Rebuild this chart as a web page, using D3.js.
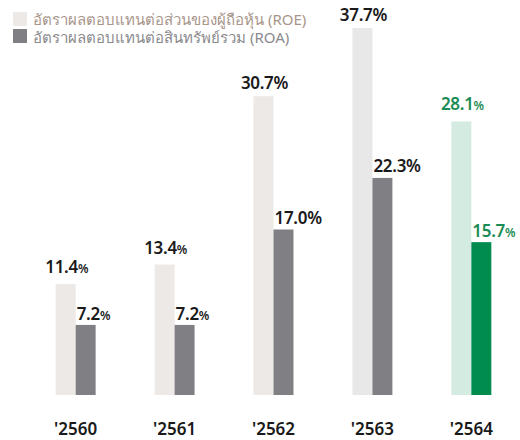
<!DOCTYPE html>
<html><head><meta charset="utf-8">
<script src="https://cdn.jsdelivr.net/npm/d3@7"></script>
<style>body{margin:0;background:#fff}svg{display:block}</style>
</head><body>
<script>
const years = ["'2560","'2561","'2562","'2563","'2564"];
const roe = [11.4, 13.4, 30.7, 37.7, 28.1];
const roa = [7.2, 7.2, 17.0, 22.3, 15.7];
const roeLabels = ["11.4","13.4","30.7","37.7","28.1"];
const roaLabels = ["7.2","7.2","17.0","22.3","15.7"];
const seriesNames = ["อัตราผลตอบแทนต่อส่วนของผู้ถือหุ้น (ROE)","อัตราผลตอบแทนต่อสินทรัพย์รวม (ROA)"];

const W=520,H=440;
const svg=d3.select("body").append("svg").attr("width",W).attr("height",H);
const font="'Noto Sans', sans-serif";
const smallPct=new Set([0,1,4]);
const x=d3.scaleBand().domain(years).range([26,521]).paddingInner(0.596).paddingOuter(0.3);
const y=d3.scaleLinear().domain([0,37.7]).range([395,28]);
const bw=x.bandwidth()/2;
const roeColor=(i)=> i===4?"#d4ebe1":(i===3?"#e8e8e8":"#ede9e6");
const roaColor=(i)=> i===4?"#008b4f":"#808084";
const txtColor=(i)=> i===4?"#1b8c55":"#1a1a1a";

const g=svg.append("g");
years.forEach((yr,i)=>{
  const x0=x(yr);
  g.append("rect").attr("x",x0).attr("y",y(roe[i])).attr("width",bw).attr("height",y(0)-y(roe[i])).attr("fill",roeColor(i));
  g.append("rect").attr("x",x0+bw).attr("y",y(roa[i])).attr("width",bw).attr("height",y(0)-y(roa[i])).attr("fill",roaColor(i));
  const sm=smallPct.has(i);
  const t1=g.append("text").attr("x",x0+bw/2+1).attr("y",y(roe[i])-(sm?11:7)).attr("text-anchor","middle")
    .attr("font-family",font).attr("font-weight",600).attr("font-size",17).attr("fill",txtColor(i)).attr("letter-spacing",-0.3);
  t1.append("tspan").text(roeLabels[i]);
  t1.append("tspan").text("%").attr("font-size",sm?12:17);
  const t2=g.append("text").attr("x",x0+bw+1).attr("y",y(roa[i])-(sm?5:6)).attr("text-anchor","start")
    .attr("font-family",font).attr("font-weight",600).attr("font-size",17).attr("fill",txtColor(i)).attr("letter-spacing",-0.3);
  t2.append("tspan").text(roaLabels[i]);
  t2.append("tspan").text("%").attr("font-size",sm?12:17);
  g.append("text").attr("x",x0+bw).attr("y",435).attr("text-anchor","middle")
    .attr("font-family",font).attr("font-weight",600).attr("font-size",17).attr("fill","#1a1a1a").text(yr);
});

const leg=svg.append("g");
const legSw=["#ede9e6","#808084"], legTx=["#a8958b","#8a8a8d"];
seriesNames.forEach((n,i)=>{
  leg.append("rect").attr("x",13).attr("y",12+i*17).attr("width",14).attr("height",14).attr("fill",legSw[i]);
  leg.append("text").attr("x",33).attr("y",25+i*18).attr("font-family",font).attr("font-size",15).attr("fill",legTx[i]).text(n);
});
</script>
</body></html>
